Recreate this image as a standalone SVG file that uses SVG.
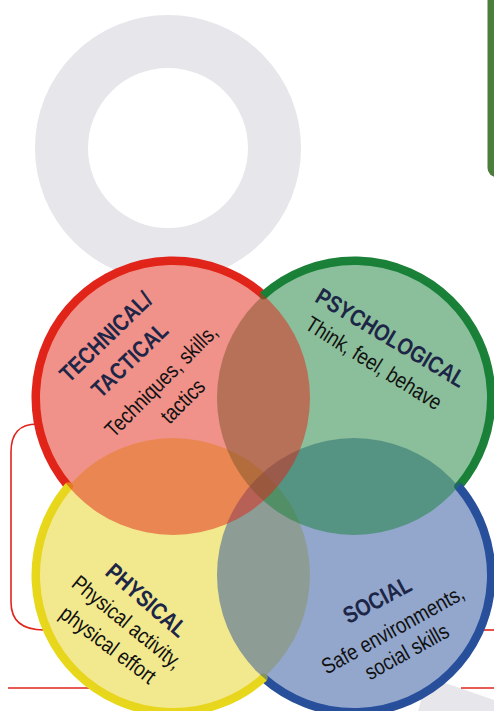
<svg xmlns="http://www.w3.org/2000/svg" width="494" height="711" viewBox="0 0 494 711">
<style>
.bg{fill:#ffffff}
.ring{fill:none;stroke:#e6e6eb;stroke-width:53}
.rl{fill:none;stroke:#e1251b;stroke-width:1.6}
.under{fill:#ffffff}
.arc{fill:none;stroke-width:8.5;stroke-linecap:round}
.fill{fill-opacity:0.5}
.t{font-family:"Liberation Sans",Arial,sans-serif;font-weight:bold;font-size:23.5px;fill:#1d2647;text-anchor:middle}
.s{font-family:"Liberation Sans",Arial,sans-serif;font-size:22px;fill:#111111;text-anchor:middle}
</style>
<rect class="bg" x="0" y="0" width="494" height="711"/>
<g id="background">
  <circle class="ring" cx="168" cy="148" r="106.5"/>
  <rect x="487.5" y="-20" width="40" height="197" rx="9" fill="#4b7d3c"/>
  <polygon points="428,677 494,700 494,711 418,711" fill="#e6e6eb"/>
</g>
<g id="connectors">
  <path class="rl" d="M37,424 Q11,424 11,452 L11,602 Q11,630 44,630"/>
  <path class="rl" d="M476,630 H494"/>
  <path class="rl" d="M8,688 H96"/>
  <path class="rl" d="M461,688 H494"/>
</g>
<g id="underlay">
  <circle class="under" cx="173" cy="398" r="137"/>
  <circle class="under" cx="354" cy="398" r="137"/>
  <circle class="under" cx="173" cy="575" r="137"/>
  <circle class="under" cx="354" cy="575" r="137"/>
</g>
<g id="arcs">
  <path class="arc" stroke="#e1251b" d="M68.4,486.5 A137,137 0 0 1 263.5,295.1"/>
  <path class="arc" stroke="#1b8139" d="M263.5,295.1 A137,137 0 0 1 458.6,486.5"/>
  <path class="arc" stroke="#284f9a" d="M458.6,486.5 A137,137 0 0 1 263.5,677.9"/>
  <path class="arc" stroke="#e8d81c" d="M263.5,677.9 A137,137 0 0 1 68.4,486.5"/>
</g>
<g id="physical">
  <circle class="fill" cx="173" cy="575" r="137" fill="#e5d31d"/>
</g>
<g id="social">
  <circle class="fill" cx="354" cy="575" r="137" fill="#274f9b"/>
</g>
<g id="psychological">
  <circle class="fill" cx="354" cy="398" r="137" fill="#177f37"/>
</g>
<g id="technical">
  <circle class="fill" cx="173" cy="398" r="137" fill="#e12315"/>
</g>
<g id="labels">
  <text class="t" transform="translate(105.5,336.5) rotate(-44) scale(0.83,1)" x="0" y="8.4">TECHNICAL/</text>
  <text class="t" transform="translate(129.5,359.5) rotate(-44) scale(0.83,1)" x="0" y="8.4">TACTICAL</text>
  <text class="s" transform="translate(161.5,381) rotate(-45) scale(0.84,1)" x="0" y="7">Techniques, skills,</text>
  <text class="s" transform="translate(183,401.5) rotate(-45) scale(0.84,1)" x="0" y="7">tactics</text>
  <text class="t" transform="translate(391,337.5) rotate(31) scale(0.83,1)" x="0" y="8.4">PSYCHOLOGICAL</text>
  <text class="s" transform="translate(373.5,363.5) rotate(32) scale(0.84,1)" x="0" y="7">Think, feel, behave</text>
  <text class="t" transform="translate(146.7,600) rotate(41) scale(0.83,1)" x="0" y="8.4">PHYSICAL</text>
  <text class="s" transform="translate(126.7,622.5) rotate(39) scale(0.84,1)" x="0" y="7">Physical activity,</text>
  <text class="s" transform="translate(107.8,645) rotate(37) scale(0.84,1)" x="0" y="7">physical effort</text>
  <text class="t" transform="translate(377,599.5) rotate(-28) scale(0.83,1)" x="0" y="8.4">SOCIAL</text>
  <text class="s" transform="translate(393,630) rotate(-29) scale(0.84,1)" x="0" y="7">Safe environments,</text>
  <text class="s" transform="translate(407,652) rotate(-29) scale(0.84,1)" x="0" y="7">social skills</text>
</g>
</svg>
